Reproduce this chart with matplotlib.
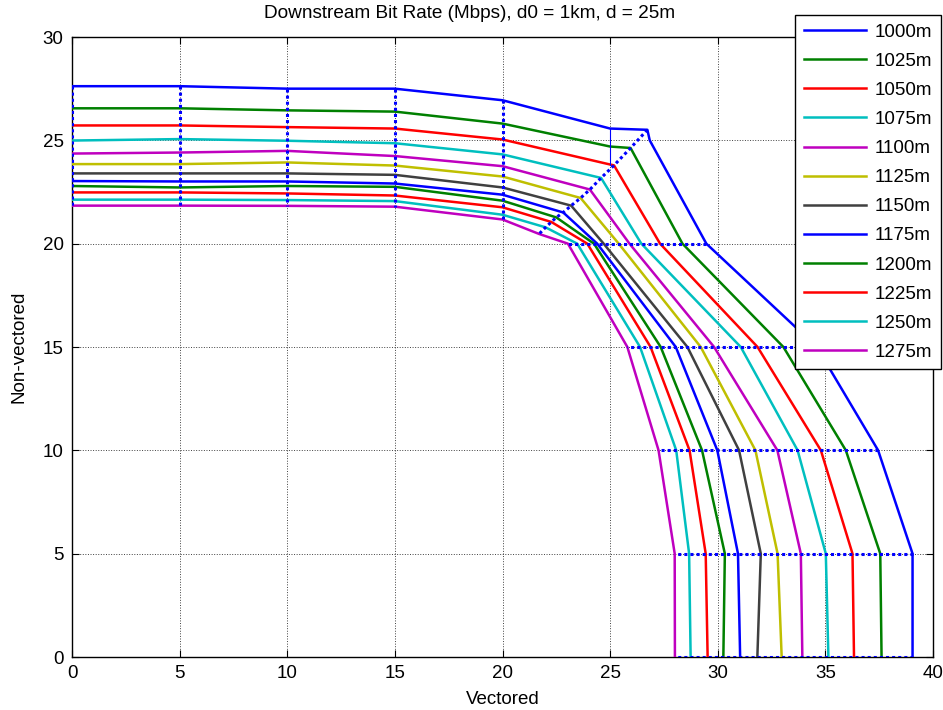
import matplotlib
matplotlib.use("Agg")
import matplotlib.pyplot as plt
import numpy as np

plt.rcParams['font.family'] = ['Liberation Sans', 'DejaVu Sans']

# loop lengths
dist = ["1000m", "1025m", "1050m", "1075m", "1100m", "1125m",
        "1150m", "1175m", "1200m", "1225m", "1250m", "1275m"]
colors = [(0, 0, 1), (0, 0.5, 0), (1, 0, 0), (0, 0.75, 0.75), (0.75, 0, 0.75),
          (0.75, 0.75, 0), (0.25, 0.25, 0.25), (0, 0, 1), (0, 0.5, 0), (1, 0, 0),
          (0, 0.75, 0.75), (0.75, 0, 0.75)]

# non-vectored rate when vectored rate is fixed at 0,5,10,15,20,25
nv_at_v0 = [27.62, 26.55, 25.72, 24.99, 24.36, 23.85, 23.40, 23.03, 22.79, 22.48, 22.13, 21.84]
nv_at_v5 = [27.62, 26.55, 25.72, 25.06, 24.41, 23.85, 23.40, 23.01, 22.72, 22.48, 22.13, 21.84]
nv_at_v10 = [27.50, 26.45, 25.64, 24.98, 24.49, 23.93, 23.40, 23.01, 22.79, 22.43, 22.11, 21.83]
nv_at_v15 = [27.50, 26.39, 25.57, 24.86, 24.24, 23.78, 23.33, 22.91, 22.75, 22.33, 22.06, 21.79]
nv_at_v20 = [26.94, 25.81, 25.04, 24.32, 23.75, 23.25, 22.72, 22.37, 22.08, 21.76, 21.40, 21.17]
nv_at_v25 = [25.57, 24.70, 23.83]

# corner (equal-share) points
corner_v = [26.73, 25.95, 25.18, 24.58, 24.06, 23.63, 23.19, 22.82, 22.50, 22.27, 22.00, 21.70]
corner_nv = [25.51, 24.63, 23.79, 23.18, 22.62, 22.21, 21.84, 21.51, 21.27, 21.05, 20.79, 20.47]

# vectored rate when non-vectored rate is fixed at 25,20,15,10,5,0
v_at_nv25 = [26.84]
v_at_nv20 = [29.47, 28.36, 27.32, 26.45, 25.90, 25.40, 24.70, 24.40, 24.25, 23.94, 23.47, 23.04]
v_at_nv15 = [34.60, 33.05, 31.85, 31.07, 29.83, 29.21, 28.59, 28.05, 27.35, 26.88, 26.39, 25.80]
v_at_nv10 = [37.45, 35.95, 34.79, 33.71, 32.77, 31.75, 30.99, 29.98, 29.27, 28.69, 28.07, 27.25]
v_at_nv5 = [39.05, 37.55, 36.26, 35.02, 33.86, 32.78, 32.00, 30.94, 30.33, 29.44, 28.67, 28.00]
v_at_nv0 = [39.05, 37.61, 36.33, 35.14, 33.93, 32.97, 31.84, 31.04, 30.26, 29.53, 28.74, 28.01]

v_cols = [(0, nv_at_v0), (5, nv_at_v5), (10, nv_at_v10), (15, nv_at_v15), (20, nv_at_v20)]
nv_rows = [(20, v_at_nv20), (15, v_at_nv15), (10, v_at_nv10), (5, v_at_nv5), (0, v_at_nv0)]

fig = plt.figure(figsize=(9.43, 7.10), dpi=100)
ax = fig.add_axes([72/943, 53/710, 861/943, 620/710])

fs = 13.5

for i in range(len(dist)):
    xs = [c[0] for c in v_cols]
    ys = [c[1][i] for c in v_cols]
    if i < len(nv_at_v25):
        xs.append(25)
        ys.append(nv_at_v25[i])
    xs.append(corner_v[i])
    ys.append(corner_nv[i])
    if i < len(v_at_nv25):
        xs.append(v_at_nv25[i])
        ys.append(25)
    for r in nv_rows:
        xs.append(r[1][i])
        ys.append(r[0])
    ax.plot(xs, ys, color=colors[i], lw=1.8, label=dist[i], zorder=3)

# contours of equal target rate
dot = dict(color='b', lw=2.2, dashes=(1.0, 1.0), zorder=4)
for v, col in v_cols:
    ax.plot([v] * len(col), col, **dot)
ax.plot([25] * len(nv_at_v25), nv_at_v25, color='b', lw=0.8, zorder=4)
ax.plot(corner_v, corner_nv, **dot)
for nv, row in nv_rows:
    ax.plot(row, [nv] * len(row), **dot)

ax.set_xlim(0, 40)
ax.set_ylim(0, 30)
ax.set_xticks(np.arange(0, 41, 5))
ax.set_yticks(np.arange(0, 31, 5))
ax.grid(True, color='k', ls=':', lw=0.7, alpha=0.75)
ax.tick_params(direction='in', top=True, right=True, labelsize=fs, length=5, pad=6)
for s in ax.spines.values():
    s.set_linewidth(1.0)

ax.set_xlabel("Vectored", fontsize=fs, labelpad=6)
ax.set_ylabel("Non-vectored", fontsize=fs, labelpad=11)
fig.text(470/943, 1 - 13/710, "Downstream Bit Rate (Mbps), d0 = 1km, d = 25m",
         ha='center', va='center', fontsize=13.7)

leg = ax.legend(loc='upper right', bbox_to_anchor=(941/943, 1 - 15/710),
                bbox_transform=fig.transFigure, fontsize=fs, fancybox=False,
                edgecolor='k', framealpha=1, handlelength=3.3, labelspacing=0.64,
                borderpad=0.45, handletextpad=0.5, borderaxespad=0)
leg.get_frame().set_linewidth(1.0)
leg.set_zorder(10)

fig.savefig("out.png", dpi=100)
